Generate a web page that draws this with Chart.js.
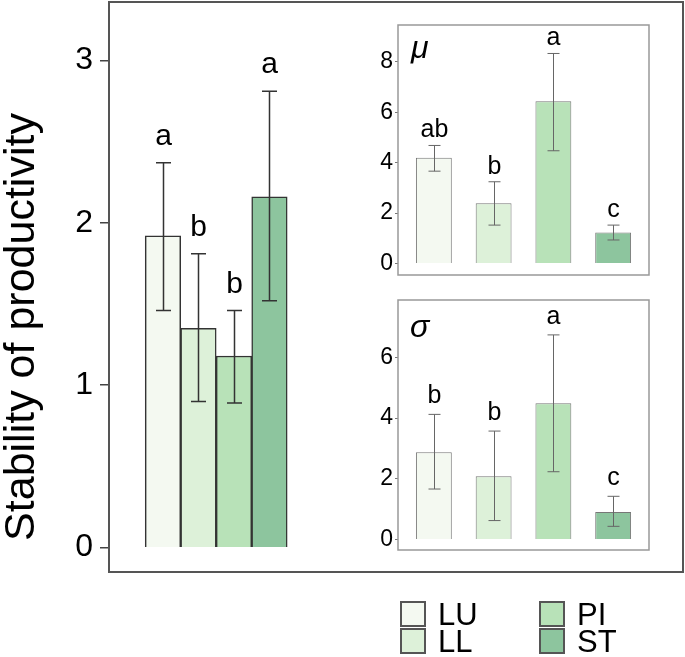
<!DOCTYPE html>
<html>
<head>
<meta charset="utf-8">
<script src="https://cdn.jsdelivr.net/npm/chart.js@4.4.1/dist/chart.umd.min.js"></script>
<style>
  body { margin: 0; background: #fff; }
  #fig { position: relative; width: 685px; height: 657px; overflow: hidden; font-family: 'Liberation Sans', Arial, sans-serif; }
  canvas { position: absolute; }
  #main { left: 0; top: 0; }
  #mu { left: 340px; top: 15px; }
  #sigma { left: 340px; top: 290px; }
  .sw { position: absolute; width: 26px; height: 26px; box-sizing: border-box; border: 2px solid #555; }
  .lab { position: absolute; font-size: 31px; line-height: 26px; color: #000; }
</style>
</head>
<body>
<div id="fig">
  <canvas id="main" width="685" height="657"></canvas>
  <canvas id="mu" width="315" height="270"></canvas>
  <canvas id="sigma" width="315" height="270"></canvas>
  <div id="legend"></div>
</div>
<script>
// groups and fills
const groups = ['LU', 'LL', 'PI', 'ST'];
const groupColors = ['#f4f9f1', '#ddf1d9', '#b8e2b8', '#8dc59e'];

// stability of productivity (main panel)
const stabMean = [1.92, 1.35, 1.18, 2.16];
const stabLo = [1.46, 0.90, 0.89, 1.52];
const stabHi = [2.37, 1.81, 1.46, 2.81];
const stabLetters = ['a', 'b', 'b', 'a'];
const stabTicks = [0, 1, 2, 3];

// mu inset
const muMean = [4.19, 2.39, 6.43, 1.23];
const muLo = [3.66, 1.52, 4.47, 0.93];
const muHi = [4.68, 3.24, 8.33, 1.52];
const muLetters = ['ab', 'b', 'a', 'c'];
const muTicks = [0, 2, 4, 6, 8];

// sigma inset
const sigmaMean = [2.87, 2.08, 4.49, 0.90];
const sigmaLo = [1.66, 0.62, 2.23, 0.43];
const sigmaHi = [4.12, 3.57, 6.74, 1.42];
const sigmaLetters = ['b', 'b', 'a', 'c'];
const sigmaTicks = [0, 2, 4, 6];

Chart.defaults.font.family = "'Liberation Sans', Arial, sans-serif";
Chart.defaults.color = '#000';

function makeErrorBars(lo, hi, letters, st) {
  return {
    id: 'errorBars',
    afterDatasetsDraw(chart) {
      const { ctx, scales: { x, y } } = chart;
      ctx.save();
      ctx.strokeStyle = st.color;
      ctx.lineWidth = st.width;
      ctx.fillStyle = '#000';
      ctx.font = st.font;
      ctx.textAlign = 'center';
      ctx.textBaseline = 'alphabetic';
      lo.forEach((l, i) => {
        const px = Math.round(x.getPixelForValue(i + 1)) + 0.5;
        const top = y.getPixelForValue(hi[i]);
        const bot = y.getPixelForValue(l);
        ctx.beginPath();
        ctx.moveTo(px, top); ctx.lineTo(px, bot);
        ctx.moveTo(px - st.cap / 2, top); ctx.lineTo(px + st.cap / 2, top);
        ctx.moveTo(px - st.cap / 2, bot); ctx.lineTo(px + st.cap / 2, bot);
        ctx.stroke();
        ctx.fillText(letters[i], px, top - st.gap);
      });
      ctx.restore();
    },
  };
}

function makeBox(color, width) {
  return {
    id: 'box',
    afterDraw(chart) {
      const { ctx, chartArea: a } = chart;
      ctx.save();
      ctx.strokeStyle = color;
      ctx.lineWidth = width;
      ctx.strokeRect(a.left, a.top, a.right - a.left, a.bottom - a.top);
      ctx.restore();
    },
  };
}

function makeLabel(text, font, px, py, rotate) {
  return {
    id: 'label',
    afterDraw(chart) {
      const ctx = chart.ctx;
      ctx.save();
      ctx.fillStyle = '#000';
      ctx.font = font;
      ctx.translate(px, py);
      if (rotate) {
        ctx.rotate(-Math.PI / 2);
        ctx.textAlign = 'center';
        ctx.textBaseline = 'middle';
      } else {
        ctx.textAlign = 'left';
        ctx.textBaseline = 'alphabetic';
      }
      ctx.fillText(text, 0, 0);
      ctx.restore();
    },
  };
}

function barChart(id, means, cfg) {
  return new Chart(document.getElementById(id), {
    type: 'bar',
    data: {
      datasets: [{
        data: means.map((v, i) => ({ x: i + 1, y: v })),
        backgroundColor: groupColors,
        borderColor: cfg.barBorder,
        borderWidth: cfg.barBorderWidth,
        categoryPercentage: cfg.catPct,
        barPercentage: 1,
      }],
    },
    options: {
      responsive: false,
      animation: false,
      events: [],
      layout: { padding: cfg.padding },
      plugins: { legend: { display: false }, tooltip: { enabled: false } },
      scales: {
        x: {
          type: 'linear',
          display: false,
          offset: false,
          min: cfg.xMin,
          max: cfg.xMax,
          afterBuildTicks: (s) => { s.ticks = groups.map((_, i) => ({ value: i + 1 })); },
        },
        y: {
          min: cfg.yMin,
          max: cfg.yMax,
          border: { display: false },
          grid: { drawOnChartArea: false, drawTicks: true, tickLength: cfg.tickLen, color: cfg.tickColor, lineWidth: cfg.tickWidth },
          ticks: { font: { size: cfg.tickFont }, padding: cfg.tickPad, color: '#000' },
          afterBuildTicks: (s) => { s.ticks = cfg.ticks.map((v) => ({ value: v })); },
          afterFit: (s) => { s.width = cfg.axisWidth; s.paddingTop = 0; s.paddingBottom = 0; },
        },
      },
    },
    plugins: cfg.plugins,
  });
}

barChart('main', stabMean, {
  barBorder: '#333', barBorderWidth: 1.5, catPct: 1,
  padding: { left: 0, top: 2, right: 2, bottom: 85 },
  xMin: -0.52, xMax: 15.65, yMin: -0.15, yMax: 3.36,
  tickLen: 9, tickColor: '#444', tickWidth: 1.5, tickFont: 32, tickPad: 7,
  ticks: stabTicks, axisWidth: 109,
  plugins: [
    makeErrorBars(stabLo, stabHi, stabLetters, { color: '#333', width: 1.5, cap: 15, gap: 18, font: "30px 'Liberation Sans', Arial, sans-serif" }),
    makeBox('#555', 2),
    makeLabel('Stability of productivity', "43px 'Liberation Sans', Arial, sans-serif", 22, 327, true),
  ],
});

barChart('mu', muMean, {
  barBorder: '#777', barBorderWidth: 1, catPct: 0.6,
  padding: { left: 0, top: 10, right: 6, bottom: 10 },
  xMin: 0.4, xMax: 4.6, yMin: -0.46, yMax: 9.46,
  tickLen: 3, tickColor: '#777', tickWidth: 1, tickFont: 23, tickPad: 2,
  ticks: muTicks, axisWidth: 58,
  plugins: [
    makeErrorBars(muLo, muHi, muLetters, { color: '#666', width: 1, cap: 12, gap: 8, font: "25px 'Liberation Sans', Arial, sans-serif" }),
    makeBox('#999', 1.5),
    makeLabel('\u03bc', "italic 32px 'Liberation Sans', Arial, sans-serif", 71, 43, false),
  ],
});

barChart('sigma', sigmaMean, {
  barBorder: '#777', barBorderWidth: 1, catPct: 0.6,
  padding: { left: 0, top: 10, right: 6, bottom: 10 },
  xMin: 0.4, xMax: 4.6, yMin: -0.35, yMax: 7.89,
  tickLen: 3, tickColor: '#777', tickWidth: 1, tickFont: 23, tickPad: 2,
  ticks: sigmaTicks, axisWidth: 58,
  plugins: [
    makeErrorBars(sigmaLo, sigmaHi, sigmaLetters, { color: '#666', width: 1, cap: 12, gap: 11, font: "25px 'Liberation Sans', Arial, sans-serif" }),
    makeBox('#999', 1.5),
    makeLabel('\u03c3', "italic 32px 'Liberation Sans', Arial, sans-serif", 70, 47, false),
  ],
});

// legend, two columns
const legend = document.getElementById('legend');
groups.forEach((g, i) => {
  const left = 400 + Math.floor(i / 2) * 139;
  const top = 601 + (i % 2) * 27;
  const sw = document.createElement('div');
  sw.className = 'sw';
  sw.style.left = left + 'px';
  sw.style.top = top + 'px';
  sw.style.background = groupColors[i];
  const lab = document.createElement('div');
  lab.className = 'lab';
  lab.style.left = left + 38 + 'px';
  lab.style.top = top + 1 + 'px';
  lab.textContent = g;
  legend.appendChild(sw);
  legend.appendChild(lab);
});
</script>
</body>
</html>
